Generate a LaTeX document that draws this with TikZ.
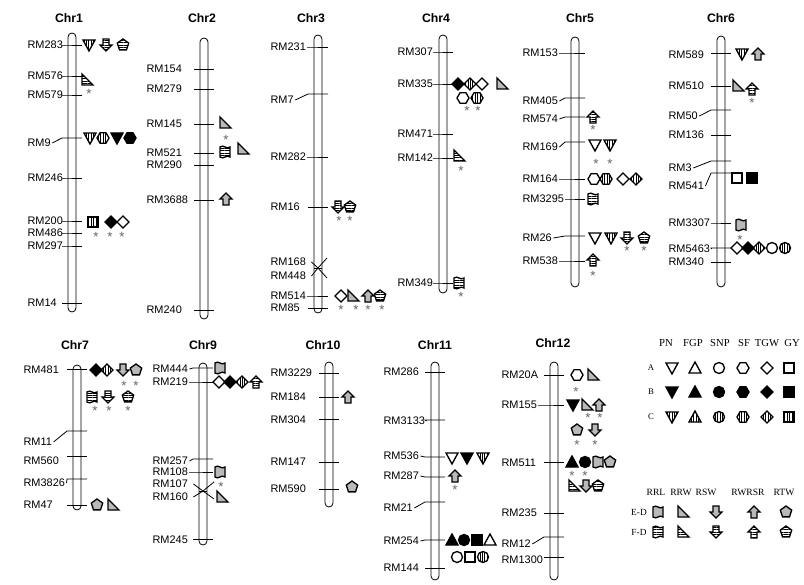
\documentclass[tikz,border=0pt]{standalone}
\usepackage{fontspec}
\setmainfont{Liberation Serif}
\setsansfont{Liberation Sans}
\usetikzlibrary{calc,patterns.meta}

\tikzset{
  sym/.style={draw=black,line width=1pt,line join=miter},
  fA/.style={fill=white},
  fB/.style={fill=black},
  fC/.style={pattern={Lines[angle=90,distance=1.8pt,line width=0.5pt]}},
  fE/.style={fill=gray!55},
  fF/.style={pattern={Lines[angle=0,distance=1.8pt,line width=0.5pt]}},
  mlab/.style={font=\sffamily\fontsize{8.2}{9}\selectfont,anchor=west,inner sep=1pt},
  ttl/.style={font=\sffamily\bfseries\fontsize{9.2}{10}\selectfont,inner sep=0pt},
  ast/.style={font=\sffamily\fontsize{10}{10}\selectfont,text=gray!80!black,inner sep=0pt,yshift=-2.1pt},
  leg/.style={font=\fontsize{8}{9}\selectfont,inner sep=0pt},
  chrom/.style={draw,line width=0.6pt,fill=white,rounded corners=3pt},
  tick/.style={line width=0.6pt},
  pics/pn/.style={code={\draw[sym,#1] (-6,-5) -- (6,-5) -- (0,6) -- cycle;}},
  pics/fgp/.style={code={\draw[sym,#1] (-6,5) -- (6,5) -- (0,-6) -- cycle;}},
  pics/snp/.style={code={\draw[sym,#1] (0,0) circle[radius=5.5];}},
  pics/sf/.style={code={\draw[sym,#1] (6,0) -- (3,5.2) -- (-3,5.2) -- (-6,0) -- (-3,-5.2) -- (3,-5.2) -- cycle;}},
  pics/tgw/.style={code={\draw[sym,#1] (0,-6) -- (6,0) -- (0,6) -- (-6,0) -- cycle;}},
  pics/gy/.style={code={\draw[sym,#1] (-5,-5) rectangle (5,5);}},
  pics/rrl/.style={code={\draw[sym,#1] (-5,-5) .. controls (-1,-8) and (1,-2) .. (5,-5) -- (5,5) .. controls (1,2) and (-1,8) .. (-5,5) -- cycle;}},
  pics/rrw/.style={code={\draw[sym,#1] (-5,-6) -- (-5,5) -- (6,5) -- cycle;}},
  pics/rsw/.style={code={\draw[sym,#1] (-3,-6) -- (3,-6) -- (3,0) -- (6,0) -- (0,6) -- (-6,0) -- (-3,0) -- cycle;}},
  pics/rwr/.style={code={\draw[sym,#1] (-3,6) -- (3,6) -- (3,0) -- (6,0) -- (0,-6) -- (-6,0) -- (-3,0) -- cycle;}},
  pics/rtw/.style={code={\draw[sym,#1] (0,-6) -- (5.7,-1.9) -- (3.5,4.9) -- (-3.5,4.9) -- (-5.7,-1.9) -- cycle;}},
}

\begin{document}
\begin{tikzpicture}[x=0.75pt,y=-0.75pt]
\fill[white] (0,0) rectangle (804,585);
\useasboundingbox (0,0) rectangle (804,585);

% chromosome titles
\node[ttl] (t1) at (69,18) {Chr1};
\node[ttl] (t2) at (202,18) {Chr2};
\node[ttl] (t3) at (311,18) {Chr3};
\node[ttl] (t4) at (436,18) {Chr4};
\node[ttl] (t5) at (580,18) {Chr5};
\node[ttl] (t6) at (721,18) {Chr6};
\node[ttl] (t7) at (75,345) {Chr7};
\node[ttl] (t9) at (203,345) {Chr9};
\node[ttl] (t10) at (323,345) {Chr10};
\node[ttl] (t11) at (435,345) {Chr11};
\node[ttl] (t12) at (553,343) {Chr12};

% Chr1
\def\cx{72}\def\lx{26}
\draw[chrom] (\cx-4,33) rectangle (\cx+4,312);
\foreach \n/\yl/\yt/\g in {RM283/45/45/0,RM576/76/76/0,RM579/95/95/0,RM9/143/138/0,RM246/178/178/0,RM200/221/221/0,RM486/233/233/0,RM297/246/246/0,RM14/303/303/1}
  {\node[mlab] (\n) at (\lx,\yl) {\n};
   \draw[tick] ($(\n.east)!\g!(\cx-10,\yt)$) -- (\cx-10,\yt) -- (\cx+10,\yt);}

% Chr2
\def\cx{204}\def\lx{145}
\draw[chrom] (\cx-4,38) rectangle (\cx+4,319);
\foreach \n/\yl/\yt/\g in {RM154/69/69/1,RM279/89/89/1,RM145/124/124/1,RM521/153/153/1,RM290/165/165/1,RM3688/200/200/1,RM240/310/310/1}
  {\node[mlab] (\n) at (\lx,\yl) {\n};
   \draw[tick] ($(\n.east)!\g!(\cx-10,\yt)$) -- (\cx-10,\yt) -- (\cx+10,\yt);}

% Chr3
\def\cx{318}\def\lx{269}
\draw[chrom] (\cx-4,35) rectangle (\cx+4,313);
\foreach \n/\yl/\yt/\g in {RM231/47/47/0,RM7/100/94/0,RM282/157/157/0,RM16/207/207/1,RM514/296/296/0,RM85/308/308/1}
  {\node[mlab] (\n) at (\lx,\yl) {\n};
   \draw[tick] ($(\n.east)!\g!(\cx-10,\yt)$) -- (\cx-10,\yt) -- (\cx+10,\yt);}
\node[mlab] (RM168) at (\lx,262) {RM168};
\node[mlab] (RM448) at (\lx,276) {RM448};
\draw[tick] ([xshift=3pt]RM168.east) -- (\cx,268) -- (\cx+9,258);
\draw[tick] ([xshift=3pt]RM448.east) -- (\cx,268) -- (\cx+9,278);
\draw[tick] (\cx-4,268) -- (\cx+4,268);

% Chr4
\def\cx{443}\def\lx{396}
\draw[chrom] (\cx-4,35) rectangle (\cx+4,293);
\foreach \n/\yl/\yt/\g in {RM307/52/52/0,RM335/84/84/0,RM471/134/134/0,RM142/158/158/0,RM349/283/283/0}
  {\node[mlab] (\n) at (\lx,\yl) {\n};
   \draw[tick] ($(\n.east)!\g!(\cx-10,\yt)$) -- (\cx-10,\yt) -- (\cx+10,\yt);}

% Chr5
\def\cx{575}\def\lx{521}
\draw[chrom] (\cx-4,37) rectangle (\cx+4,287);
\foreach \n/\yl/\yt/\g in {RM153/53/53/0,RM405/101/98/0,RM574/119/117/0,RM169/147/142/0,RM164/179/179/0,RM3295/199/199/0,RM26/238/236/0,RM538/261/261/0}
  {\node[mlab] (\n) at (\lx,\yl) {\n};
   \draw[tick] ($(\n.east)!\g!(\cx-10,\yt)$) -- (\cx-10,\yt) -- (\cx+10,\yt);}

% Chr6
\def\cx{721}\def\lx{667}
\draw[chrom] (\cx-4,36) rectangle (\cx+4,287);
\foreach \n/\yl/\yt/\g in {RM589/55/53/1,RM510/86/86/1,RM50/116/110/0,RM136/135/135/1,RM3/168/161/0,RM541/186/173/0,RM3307/223/223/0,RM5463/249/248/0,RM340/262/262/1}
  {\node[mlab] (\n) at (\lx,\yl) {\n};
   \draw[tick] ($(\n.east)!\g!(\cx-10,\yt)$) -- (\cx-10,\yt) -- (\cx+10,\yt);}

% Chr7
\def\cx{77}\def\lx{22}
\draw[chrom] (\cx-4,365) rectangle (\cx+4,510);
\foreach \n/\yl/\yt/\g in {RM481/370/369/1,RM11/442/431/0,RM560/461/456/1,RM3826/483/479/0,RM47/505/505/1}
  {\node[mlab] (\n) at (\lx,\yl) {\n};
   \draw[tick] ($(\n.east)!\g!(\cx-10,\yt)$) -- (\cx-10,\yt) -- (\cx+10,\yt);}

% Chr9
\def\cx{203}\def\lx{151}
\draw[chrom] (\cx-4,363) rectangle (\cx+4,545);
\foreach \n/\yl/\yt/\g in {RM444/369/368/0,RM219/382/382/0,RM257/461/459/0,RM108/472/472/0,RM245/540/539/1}
  {\node[mlab] (\n) at (\lx,\yl) {\n};
   \draw[tick] ($(\n.east)!\g!(\cx-10,\yt)$) -- (\cx-10,\yt) -- (\cx+10,\yt);}
\node[mlab] (RM107) at (\lx,484) {RM107};
\node[mlab] (RM160) at (\lx,497) {RM160};
\draw[tick] ([xshift=3pt]RM107.east) -- (\cx,491) -- (\cx+11,482);
\draw[tick] ([xshift=3pt]RM160.east) -- (\cx,491) -- (\cx+11,499);
\draw[tick] (\cx-4,491) -- (\cx+4,491);

% Chr10
\def\cx{329}\def\lx{269}
\draw[chrom] (\cx-4,362) rectangle (\cx+4,507);
\foreach \n/\yl/\yt/\g in {RM3229/373/373/1,RM184/397/397/1,RM304/420/419/1,RM147/462/462/1,RM590/489/489/1}
  {\node[mlab] (\n) at (\lx,\yl) {\n};
   \draw[tick] ($(\n.east)!\g!(\cx-10,\yt)$) -- (\cx-10,\yt) -- (\cx+10,\yt);}

% Chr11
\def\cx{435}\def\lx{382}
\draw[chrom] (\cx-4,362) rectangle (\cx+4,580);
\foreach \n/\yl/\yt/\g in {RM286/372/372/1,RM3133/421/420/0,RM536/456/457/0,RM287/476/477/0,RM21/508/502/0,RM254/541/540/0,RM144/568/568/1}
  {\node[mlab] (\n) at (\lx,\yl) {\n};
   \draw[tick] ($(\n.east)!\g!(\cx-10,\yt)$) -- (\cx-10,\yt) -- (\cx+10,\yt);}

% Chr12
\def\cx{554}\def\lx{500}
\draw[chrom] (\cx-4,362) rectangle (\cx+4,580);
\foreach \n/\yl/\yt/\g in {RM20A/375/375/1,RM155/405/405/0,RM511/463/462/1,RM235/513/513/1,RM12/544/537/0,RM1300/560/557/1}
  {\node[mlab] (\n) at (\lx,\yl) {\n};
   \draw[tick] ($(\n.east)!\g!(\cx-10,\yt)$) -- (\cx-10,\yt) -- (\cx+10,\yt);}

% QTL symbols
\pic at (89,45) {pn=fC}; \pic at (106,45) {rsw=fF}; \pic at (123,45) {rtw=fF};
\pic at (87,80) {rrw=fF};
\pic at (90,138) {pn=fC}; \pic at (103,138) {sf=fC}; \pic at (117,138) {pn=fB}; \pic at (130,138) {sf=fB};
\pic at (93,222) {gy=fC}; \pic at (111,222) {tgw=fB}; \pic at (123,222) {tgw=fA};
\pic at (225,123) {rrw=fE}; \pic at (225,152) {rrl=fF}; \pic at (243,149) {rrw=fE};
\pic at (226,199) {rwr=fE};
\pic at (338,207) {rsw=fF}; \pic at (350,207) {rtw=fF};
\pic at (341,296) {tgw=fA}; \pic at (353,296) {rrw=fE}; \pic at (368,296) {rwr=fE}; \pic at (380,296) {rtw=fF};
\pic at (458,84) {tgw=fB}; \pic at (470,84) {tgw=fC}; \pic at (482,84) {tgw=fA}; \pic at (502,84) {rrw=fE};
\pic at (463,98) {sf=fA}; \pic at (477,98) {sf=fC};
\pic at (459,156) {rrw=fF};
\pic at (459,283) {rrl=fF};
\pic at (593,117) {rwr=fF};
\pic at (595,145) {pn=fA}; \pic at (610,145) {pn=fC};
\pic at (594,179) {sf=fA}; \pic at (606,179) {sf=fC}; \pic at (623,179) {tgw=fA}; \pic at (636,179) {tgw=fC};
\pic at (593,199) {rrl=fF};
\pic at (595,238) {pn=fA}; \pic at (611,238) {pn=fC}; \pic at (627,238) {rsw=fF}; \pic at (644,238) {rtw=fF};
\pic at (593,260) {rwr=fF};
\pic at (742,54) {pn=fC}; \pic at (758,54) {rwr=fE};
\pic at (738,86) {rrw=fE}; \pic at (752,89) {rwr=fF};
\pic at (737,178) {gy=fA}; \pic at (752,178) {gy=fB};
\pic at (741,225) {rrl=fE};
\pic at (737,248) {tgw=fA}; \pic at (748,248) {tgw=fB}; \pic at (759,248) {tgw=fC}; \pic at (772,248) {snp=fA}; \pic at (785,248) {snp=fC};
\pic at (96,370) {tgw=fB}; \pic at (107,370) {tgw=fC}; \pic at (123,370) {rsw=fE}; \pic at (136,370) {rtw=fE};
\pic at (92,397) {rrl=fF}; \pic at (108,397) {rsw=fF}; \pic at (128,397) {rtw=fF};
\pic at (97,505) {rtw=fE}; \pic at (113,505) {rrw=fE};
\pic at (220,368) {rrl=fE};
\pic at (219,382) {tgw=fA}; \pic at (230,382) {tgw=fB}; \pic at (242,382) {tgw=fC}; \pic at (256,382) {rwr=fF};
\pic at (220,472) {rrl=fE};
\pic at (222,497) {rrw=fE};
\pic at (348,397) {rwr=fE};
\pic at (352,487) {rtw=fE};
\pic at (452,458) {pn=fA}; \pic at (467,458) {pn=fB}; \pic at (483,458) {pn=fC};
\pic at (455,476) {rwr=fE};
\pic at (452,540) {fgp=fB}; \pic at (464,540) {snp=fB}; \pic at (477,540) {gy=fB}; \pic at (490,540) {fgp=fA};
\pic at (457,557) {snp=fA}; \pic at (470,557) {gy=fA}; \pic at (483,557) {snp=fC};
\pic at (577,375) {sf=fA}; \pic at (593,375) {rrw=fE};
\pic at (573,405) {pn=fB}; \pic at (587,405) {rrw=fE}; \pic at (599,405) {rwr=fE};
\pic at (577,430) {rtw=fE}; \pic at (595,430) {rsw=fE};
\pic at (572,462) {fgp=fB}; \pic at (585,462) {snp=fB}; \pic at (598,462) {rrl=fE}; \pic at (610,462) {rtw=fE};
\pic at (574,486) {rrw=fF}; \pic at (586,486) {rsw=fE}; \pic at (598,486) {rtw=fF};

% significance stars
\foreach \x/\y [count=\i] in {89/91,96/234,110/234,122/234,226/137,339/218,350/218,341/307,356/307,368/307,382/307,467/108,478/108,461/168,461/294,593/127,596/161,610/161,627/248,644/248,593/273,752/100,740/237,124/383,136/383,95/408,109/408,128/408,221/484,455/487,576/389,588/415,600/415,577/442,595/442,572/473,585/473}
  \node[ast] (s\i) at (\x,\y) {*};

% legend, traits
\node[leg] (hPN) at (666,343) {PN};
\node[leg] (hFGP) at (693,343) {FGP};
\node[leg] (hSNP) at (720,343) {SNP};
\node[leg] (hSF) at (744,343) {SF};
\node[leg] (hTGW) at (767,343) {TGW};
\node[leg] (hGY) at (792,343) {GY};
\node[leg,font=\fontsize{6.5}{7}\selectfont] (rA) at (651,368) {A};
\node[leg,font=\fontsize{6.5}{7}\selectfont] (rB) at (651,392) {B};
\node[leg,font=\fontsize{6.5}{7}\selectfont] (rC) at (651,417) {C};
\pic at (672,368) {pn=fA}; \pic at (695,368) {fgp=fA}; \pic at (719,368) {snp=fA}; \pic at (743,368) {sf=fA}; \pic at (767,368) {tgw=fA}; \pic at (789,368) {gy=fA};
\pic at (672,392) {pn=fB}; \pic at (695,392) {fgp=fB}; \pic at (719,392) {snp=fB}; \pic at (743,392) {sf=fB}; \pic at (767,392) {tgw=fB}; \pic at (789,392) {gy=fB};
\pic at (672,417) {pn=fC}; \pic at (695,417) {fgp=fC}; \pic at (719,417) {snp=fC}; \pic at (743,417) {sf=fC}; \pic at (767,417) {tgw=fC}; \pic at (789,417) {gy=fC};

% legend, root traits
\node[leg,font=\fontsize{7.2}{8}\selectfont] (hRRL) at (656,492) {RRL};
\node[leg,font=\fontsize{7.2}{8}\selectfont] (hRRW) at (681,492) {RRW};
\node[leg,font=\fontsize{7.2}{8}\selectfont] (hRSW) at (706,492) {RSW};
\node[leg,font=\fontsize{7.2}{8}\selectfont] (hRWRSR) at (748,492) {RWRSR};
\node[leg,font=\fontsize{7.2}{8}\selectfont] (hRTW) at (784,492) {RTW};
\node[leg,font=\fontsize{7}{8}\selectfont] (rED) at (639,512) {E-D};
\node[leg,font=\fontsize{7}{8}\selectfont] (rFD) at (639,532) {F-D};
\pic at (658,512) {rrl=fE}; \pic at (683,512) {rrw=fE}; \pic at (716,512) {rsw=fE}; \pic at (754,512) {rwr=fE}; \pic at (786,512) {rtw=fE};
\pic at (658,532) {rrl=fF}; \pic at (683,532) {rrw=fF}; \pic at (716,532) {rsw=fF}; \pic at (754,532) {rwr=fF}; \pic at (786,532) {rtw=fF};
\end{tikzpicture}
\end{document}
